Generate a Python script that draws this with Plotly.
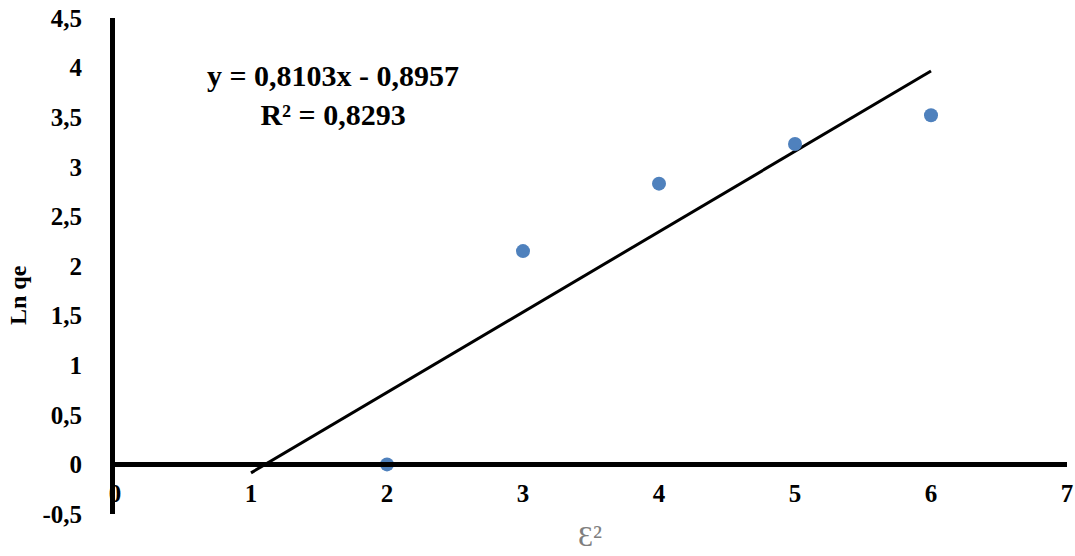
import plotly.graph_objects as go

x_vals = [2, 3, 4, 5, 6]
y_vals = [0.0, 2.15, 2.83, 3.23, 3.52]
slope = 0.8103
intercept = -0.8957
trend_x = [1, 6]
x_ticks = [0, 1, 2, 3, 4, 5, 6, 7]
x_tick_text = ["0", "1", "2", "3", "4", "5", "6", "7"]
y_ticks = [-0.5, 0, 0.5, 1, 1.5, 2, 2.5, 3, 3.5, 4, 4.5]
y_tick_text = ["-0,5", "0", "0,5", "1", "1,5", "2", "2,5", "3", "3,5", "4", "4,5"]
equation_text = "y = 0,8103x - 0,8957<br>R² = 0,8293"

trend_y = [slope * v + intercept for v in trend_x]

serif = "Liberation Serif, Times New Roman, serif"

FW, FH = 1075, 556
L, R, T, B = 115, 8, 18, 42
W_PLOT = FW - L - R
H_PLOT = FH - T - B


def px_to_paper(px, py):
    return (px - L) / W_PLOT, (FH - B - py) / H_PLOT


fig = go.Figure()
fig.add_trace(go.Scatter(x=trend_x, y=trend_y, mode="lines",
                         line=dict(color="black", width=3), showlegend=False,
                         hoverinfo="skip"))
fig.add_trace(go.Scatter(x=x_vals, y=y_vals, mode="markers",
                         marker=dict(color="#4F81BD", size=14), showlegend=False))

tick_font = dict(family=serif, size=25, color="black", weight="bold")

ex, ey = px_to_paper(333, 95)
lx, ly = px_to_paper(18, 295)
tx, ty = px_to_paper(590, 535)

fig.update_layout(
    width=FW, height=FH,
    margin=dict(l=L, r=R, t=T, b=B, autoexpand=False),
    paper_bgcolor="white", plot_bgcolor="white",
    font=dict(family=serif, color="black"),
    xaxis=dict(range=[0, 7], tickvals=x_ticks, ticktext=x_tick_text,
               showgrid=False, zeroline=False, automargin=False,
               showline=True, linecolor="black", linewidth=5,
               anchor="free", position=50 / H_PLOT,
               ticks="outside", ticklen=0, ticklabelstandoff=5,
               tickfont=tick_font),
    yaxis=dict(range=[-0.5, 4.5], tickvals=y_ticks, ticktext=y_tick_text,
               showgrid=False, zeroline=False, automargin=False,
               showline=True, linecolor="black", linewidth=5,
               ticks="outside", ticklen=0, ticklabelstandoff=23,
               tickfont=tick_font),
    annotations=[
        dict(text=equation_text, x=ex, y=ey, xref="paper", yref="paper",
             showarrow=False, align="center", xanchor="center", yanchor="middle",
             font=dict(family=serif, size=30, color="black", weight="bold")),
        dict(text="Ln qe", x=lx, y=ly, xref="paper", yref="paper",
             showarrow=False, textangle=-90,
             xanchor="center", yanchor="middle",
             font=dict(family=serif, size=24, color="black", weight="bold")),
        dict(text="Ɛ²", x=tx, y=ty, xref="paper", yref="paper",
             showarrow=False, xanchor="center", yanchor="middle",
             font=dict(family=serif, size=30, color="#7f7f7f")),
    ],
)

fig.write_html("out.html", config={"displayModeBar": False},
               post_script="document.body.style.margin='0px';")
